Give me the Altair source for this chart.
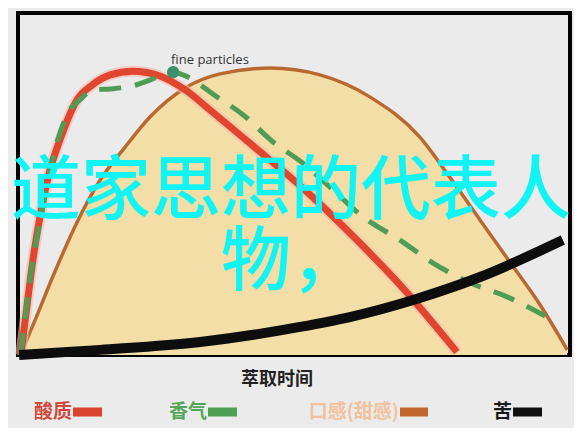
import altair as alt
import pandas as pd

# ---- data (in 0-100 units of the frame) ----
sour_x = [0.5, 1.3, 2.7, 4.2, 5.8, 7.6, 10.7, 13.4, 16.7, 20.8, 25.7, 30.3, 34.8, 42.6, 51.6, 61.4, 69.2, 79.5]
sour_y = [0.0, 10.2, 27.8, 42.4, 54.1, 62.9, 74.6, 78.9, 81.9, 83.0, 81.6, 77.5, 71.6, 61.1, 48.8, 33.6, 20.5, 0.9]

aroma_x = [0.5, 2.7, 4.5, 7.2, 9.4, 11.2, 13.6, 16.7, 20.8, 23.9, 28.1, 29.9, 36.1, 40.8, 46.2, 51.6, 57.1, 62.5, 69.2, 75.2, 81.9, 88.6, 95.5]
aroma_y = [0.0, 27.8, 43.3, 62.9, 71.6, 74.6, 77.5, 77.8, 78.7, 80.4, 82.7, 81.9, 75.4, 70.2, 62.3, 56.1, 48.2, 40.4, 33.6, 26.9, 21.1, 17.0, 11.4]

sweet_x = [0.4, 3.1, 6.2, 10.9, 14.9, 19.4, 23.9, 30.3, 36.6, 45.7, 54.7, 63.8, 72.8, 78.3, 83.7, 89.1, 94.6, 99.5]
sweet_y = [0.0, 10.2, 22.5, 39.5, 51.2, 60.8, 69.6, 78.1, 82.2, 83.9, 81.9, 75.4, 63.7, 51.8, 39.5, 27.2, 14.6, 1.5]

bitter_x = [0.2, 14.9, 33.0, 51.1, 60.1, 71.6, 83.7, 98.7]
bitter_y = [0.0, 1.5, 3.8, 8.2, 11.1, 16.1, 22.8, 33.6]

marker_x = [28.1]
marker_y = [82.7]
marker_label = ["fine particles"]

legend_names = ["酸质", "香气", "口感(甜感)", "苦"]
legend_text_colors = ["#cf4a3c", "#55a65a", "#f0c29e", "#1a1a1a"]
legend_bar_colors = ["#d9432f", "#4f9f55", "#c0652c", "#111111"]

x_title = "萃取时间"
watermark = ["道家思想的代表人", "物，"]

# ---- layout ----
W, H = 552, 342
X0 = 18  # page x of the frame's left edge


def px_to_x(px):
    return (px - X0) / (W / 100.0)


leg = pd.DataFrame({
    "name": legend_names,
    "tcol": legend_text_colors,
    "bcol": legend_bar_colors,
    "lx": [px_to_x(p) for p in [72, 207, 399, 512]],
    "b1": [px_to_x(p) for p in [73, 208, 400, 513]],
    "b2": [px_to_x(p) for p in [102, 237, 428, 542]],
})

xs = alt.Scale(domain=[0, 100], nice=False, zero=False)
ys = alt.Scale(domain=[0, 100], nice=False, zero=False)
X = alt.X("x:Q", scale=xs, axis=None)
Y = alt.Y("y:Q", scale=ys, axis=None)


def df(x, y):
    return pd.DataFrame({"x": x, "y": y})


sweet_area = alt.Chart(df(sweet_x, sweet_y)).mark_area(
    interpolate="monotone", color="#f2dea6", opacity=1
).encode(x=X, y=Y, y2=alt.datum(0))

sweet_line = alt.Chart(df(sweet_x, sweet_y)).mark_line(
    interpolate="monotone", color="#b8692f", strokeWidth=3.5
).encode(x=X, y=Y)

sour_halo = alt.Chart(df(sour_x, sour_y)).mark_line(
    interpolate="monotone", color="#f6b9aa", strokeWidth=11, opacity=0.6
).encode(x=X, y=Y)

sour_line = alt.Chart(df(sour_x, sour_y)).mark_line(
    interpolate="monotone", color="#e0462f", strokeWidth=7
).encode(x=X, y=Y)

aroma_line = alt.Chart(df(aroma_x, aroma_y)).mark_line(
    interpolate="monotone", color="#4f9c55", strokeWidth=5, strokeDash=[22, 14]
).encode(x=X, y=Y)

bitter_line = alt.Chart(df(bitter_x, bitter_y)).mark_line(
    interpolate="monotone", color="#0d0d0d", strokeWidth=10, strokeCap="butt"
).encode(x=X, y=Y)

mk = pd.DataFrame({"x": marker_x, "y": marker_y, "t": marker_label})
marker = alt.Chart(mk).mark_point(
    filled=True, size=150, color="#3d8f70", opacity=1
).encode(x=X, y=Y)
marker_text = alt.Chart(mk).mark_text(
    align="left", baseline="alphabetic", dx=-2, dy=-8, fontSize=13,
    font="Open Sans", color="#333333"
).encode(x=X, y=Y, text="t:N")

title_df = pd.DataFrame({"x": [px_to_x(277)], "t": [x_title]})
title_mark = alt.Chart(title_df).mark_text(
    fontSize=18, fontWeight="bold", font="Noto Sans CJK SC", color="#222222",
    baseline="middle", align="center"
).encode(x=X, y=alt.value(367), text="t:N")

leg_text = alt.Chart(leg).mark_text(
    align="right", baseline="middle", fontSize=19, font="Noto Sans CJK SC", fontWeight="bold"
).encode(x=alt.X("lx:Q", scale=xs, axis=None), y=alt.value(399), text="name:N",
         color=alt.Color("tcol:N", scale=None))

leg_bar = alt.Chart(leg).mark_rule(strokeWidth=9).encode(
    x=alt.X("b1:Q", scale=xs, axis=None), x2="b2:Q", y=alt.value(399),
    color=alt.Color("bcol:N", scale=None))

wm = alt.Chart(pd.DataFrame({"a": [0]})).mark_text(
    text=watermark, fontSize=70, fontWeight=500, font="Noto Sans CJK SC",
    color="#12f4f4", align="center", baseline="middle", lineHeight=71
).encode(x=alt.value(273), y=alt.value(180))

chart = alt.layer(
    sweet_area, sweet_line, sour_halo, sour_line, aroma_line, bitter_line,
    marker, marker_text, title_mark, leg_bar, leg_text, wm
).properties(
    width=W, height=H,
    autosize=alt.AutoSizeParams(type="none"),
    padding={"left": 10, "top": 5, "right": 4, "bottom": 73},
    background="#ebebeb",
).configure_view(stroke="#000000", strokeWidth=4)

chart.save("out.html", embed_options={"renderer": "svg", "actions": False})
